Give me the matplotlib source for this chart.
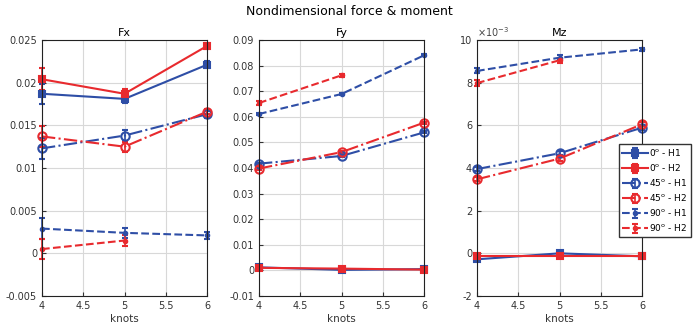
import matplotlib.pyplot as plt
from matplotlib.ticker import FuncFormatter
import numpy as np

knots = [4, 5, 6]

# Fx values and error bars
fx_0_h1 = [0.0187, 0.0181, 0.0221]
fx_0_h1_err = [0.0012, 0.0005, 0.0004]
fx_0_h2 = [0.0204, 0.0187, 0.0243]
fx_0_h2_err = [0.0013, 0.0005, 0.0003]
fx_45_h1 = [0.0123, 0.0138, 0.0163]
fx_45_h1_err = [0.0012, 0.0006, 0.0004]
fx_45_h2 = [0.0137, 0.0125, 0.0166]
fx_45_h2_err = [0.0012, 0.0006, 0.0003]
fx_90_h1 = [0.0029, 0.0024, 0.0021]
fx_90_h1_err = [0.0012, 0.0006, 0.0004]
fx_90_h2 = [0.0005, 0.0015, np.nan]
fx_90_h2_err = [0.0012, 0.0006, 0.0]

# Fy values and error bars
fy_0_h1 = [0.0012, 0.0002, 0.0005]
fy_0_h1_err = [0.0003, 0.0003, 0.0003]
fy_0_h2 = [0.0010, 0.0007, 0.0003]
fy_0_h2_err = [0.0003, 0.0003, 0.0003]
fy_45_h1 = [0.0417, 0.0447, 0.0539]
fy_45_h1_err = [0.0004, 0.0004, 0.0004]
fy_45_h2 = [0.0398, 0.0462, 0.0577]
fy_45_h2_err = [0.0004, 0.0004, 0.0004]
fy_90_h1 = [0.0611, 0.0689, 0.0840]
fy_90_h1_err = [0.0005, 0.0005, 0.0004]
fy_90_h2 = [0.0654, 0.0762, np.nan]
fy_90_h2_err = [0.0006, 0.0005, 0.0]

# Mz values (x1e-3) and error bars
mz_0_h1 = [-0.28, 0.00, -0.14]
mz_0_h1_err = [0.08, 0.08, 0.08]
mz_0_h2 = [-0.13, -0.13, -0.13]
mz_0_h2_err = [0.08, 0.08, 0.08]
mz_45_h1 = [3.95, 4.69, 5.89]
mz_45_h1_err = [0.10, 0.10, 0.10]
mz_45_h2 = [3.47, 4.44, 6.05]
mz_45_h2_err = [0.10, 0.10, 0.10]
mz_90_h1 = [8.55, 9.17, 9.56]
mz_90_h1_err = [0.12, 0.12, 0.08]
mz_90_h2 = [7.98, 9.05, np.nan]
mz_90_h2_err = [0.15, 0.12, 0.0]

labels = ['0$^\\mathrm{o}$ - H1', '0$^\\mathrm{o}$ - H2',
          '45$^\\mathrm{o}$ - H1', '45$^\\mathrm{o}$ - H2',
          '90$^\\mathrm{o}$ - H1', '90$^\\mathrm{o}$ - H2']

BLUE = '#2e4ea6'
RED = '#e82a2e'

styles = [
    dict(color=BLUE, ls='-', marker='s', mfc=BLUE, ms=5),
    dict(color=RED, ls='-', marker='s', mfc=RED, ms=5),
    dict(color=BLUE, ls='-.', marker='o', mfc='none', ms=6),
    dict(color=RED, ls='-.', marker='o', mfc='none', ms=6),
    dict(color=BLUE, ls='--', marker='.', mfc=BLUE, ms=5),
    dict(color=RED, ls='--', marker='.', mfc=RED, ms=5),
]

panels = [
    ('Fx', [fx_0_h1, fx_0_h2, fx_45_h1, fx_45_h2, fx_90_h1, fx_90_h2],
     [fx_0_h1_err, fx_0_h2_err, fx_45_h1_err, fx_45_h2_err, fx_90_h1_err, fx_90_h2_err],
     1.0, (-0.005, 0.025), np.arange(-0.005, 0.0251, 0.005)),
    ('Fy', [fy_0_h1, fy_0_h2, fy_45_h1, fy_45_h2, fy_90_h1, fy_90_h2],
     [fy_0_h1_err, fy_0_h2_err, fy_45_h1_err, fy_45_h2_err, fy_90_h1_err, fy_90_h2_err],
     1.0, (-0.01, 0.09), np.arange(-0.01, 0.0901, 0.01)),
    ('Mz', [mz_0_h1, mz_0_h2, mz_45_h1, mz_45_h2, mz_90_h1, mz_90_h2],
     [mz_0_h1_err, mz_0_h2_err, mz_45_h1_err, mz_45_h2_err, mz_90_h1_err, mz_90_h2_err],
     1e-3, (-0.002, 0.010), np.arange(-0.002, 0.0101, 0.002)),
]

fig = plt.figure(figsize=(6.98, 3.33), dpi=100)
lefts = [42, 259, 477]
fs = 7

handles = []
for (title, series, errs, scale, ylim, yticks), left in zip(panels, lefts):
    ax = fig.add_axes([left / 698, 1 - 296 / 333, 165 / 698, 256 / 333])
    for i, (vals, err) in enumerate(zip(series, errs)):
        st = styles[i]
        y = np.array(vals) * scale
        e = np.array(err) * scale
        h = ax.errorbar(knots, y, yerr=e, color=st['color'], ls=st['ls'],
                        marker=st['marker'], mfc=st['mfc'], mec=st['color'],
                        ms=st['ms'], mew=1.5, lw=1.5, capsize=2.5,
                        elinewidth=1.2, capthick=1.2, label=labels[i])
        # let markers on the axis edges show fully, like the original
        h.lines[0].set_clip_on(False)
        for a in h.lines[1]:
            a.set_clip_on(False)
        for a in h.lines[2]:
            a.set_clip_on(False)
        if title == 'Fx':
            handles.append(h)
    ax.set_xlim(4, 6)
    ax.set_ylim(*ylim)
    ax.set_xticks([4, 4.5, 5, 5.5, 6])
    ax.xaxis.set_major_formatter(FuncFormatter(lambda v, p: '%g' % v))
    ax.set_yticks(yticks)
    if title == 'Mz':
        ax.yaxis.set_major_formatter(FuncFormatter(lambda v, p: '%g' % round(v * 1e3, 6)))
        ax.text(0.0, 1.005, '$\\times10^{-3}$', transform=ax.transAxes,
                fontsize=fs, color='#444444', va='bottom', ha='left')
    else:
        ax.yaxis.set_major_formatter(FuncFormatter(lambda v, p: '%g' % round(v, 6)))
    ax.grid(True, color='#d8d8d8', lw=0.8)
    ax.set_axisbelow(True)
    ax.tick_params(direction='in', labelsize=fs, colors='#333333', length=3)
    for s in ax.spines.values():
        s.set_color('#222222')
        s.set_linewidth(0.8)
    ax.set_xlabel('knots', fontsize=fs + 0.5, color='#333333', labelpad=2)
    ax.set_title(title, fontsize=fs + 1, pad=3)

fig.suptitle('Nondimensional force & moment', fontsize=9, y=0.985)
leg = fig.legend(handles, labels, loc='upper left',
                 bbox_to_anchor=(619 / 698, 1 - 144 / 333), fontsize=6.5,
                 frameon=True, fancybox=False, edgecolor='#333333', framealpha=1,
                 handlelength=2.9, handletextpad=0.1, borderpad=0.35,
                 labelspacing=0.45, borderaxespad=0)
leg.set_zorder(10)

fig.savefig('out.png', dpi=100)
